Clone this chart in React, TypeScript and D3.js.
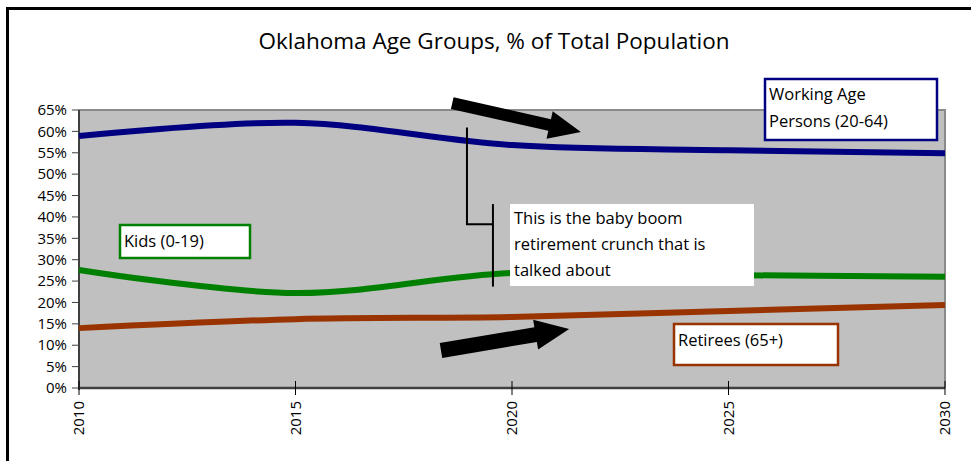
import { useRef, useEffect } from "react";
import * as d3 from "d3";

const years = [2010, 2015, 2020, 2025, 2030];
const working = [58.9, 62.0, 56.8, 55.6, 54.9];
const kids = [27.6, 22.2, 26.9, 26.4, 26.0];
const retirees = [14.0, 16.1, 16.6, 18.0, 19.4];
const yTicks = [0, 5, 10, 15, 20, 25, 30, 35, 40, 45, 50, 55, 60, 65];

const W = 971;
const H = 461;
const FONT = "'Open Sans', 'Noto Sans', sans-serif";

export default function App() {
  const ref = useRef<SVGSVGElement>(null);

  useEffect(() => {
    if (!ref.current) return;
    document.body.style.margin = "0";
    const svg = d3.select(ref.current);
    svg.selectAll("*").remove();

    const x = d3.scaleLinear().domain([2010, 2030]).range([79, 945]);
    const y = d3.scaleLinear().domain([0, 65]).range([388, 110]);

    svg.append("rect").attr("width", W).attr("height", H).attr("fill", "#fff");
    // outer chart border
    svg.append("rect")
      .attr("x", 7.5).attr("y", 8.5).attr("width", 1000).attr("height", 500)
      .attr("fill", "none").attr("stroke", "#000").attr("stroke-width", 3);

    svg.append("text")
      .attr("x", 494).attr("y", 49)
      .attr("text-anchor", "middle")
      .style("font-family", FONT).style("font-size", "22.5px").attr("fill", "#000")
      .text("Oklahoma Age Groups, % of Total Population");

    // plot area
    svg.append("rect")
      .attr("x", x(2010)).attr("y", y(65))
      .attr("width", x(2030) - x(2010)).attr("height", y(0) - y(65))
      .attr("fill", "#c0c0c0");
    svg.append("path")
      .attr("d", `M${x(2010)},${y(65)}H${x(2030)}V${y(0)}`)
      .attr("fill", "none").attr("stroke", "#8a8a8a").attr("stroke-width", 2);

    // y axis
    const gy = svg.append("g").attr("transform", `translate(${x(2010)},0)`);
    gy.append("line").attr("y1", y(65)).attr("y2", y(0) + 2)
      .attr("stroke", "#404040").attr("stroke-width", 2);
    yTicks.forEach((t) => {
      gy.append("line").attr("x1", -7).attr("x2", 0)
        .attr("y1", y(t)).attr("y2", y(t)).attr("stroke", "#404040").attr("stroke-width", 1);
      gy.append("text").attr("x", -12).attr("y", y(t)).attr("dy", "0.35em")
        .attr("text-anchor", "end")
        .style("font-family", FONT).style("font-size", "15px").attr("fill", "#000")
        .text(`${t}%`);
    });

    // x axis
    const gx = svg.append("g").attr("transform", `translate(0,${y(0)})`);
    gx.append("line").attr("x1", x(2010)).attr("x2", x(2030))
      .attr("stroke", "#404040").attr("stroke-width", 2.5);
    years.forEach((yr) => {
      gx.append("line").attr("x1", x(yr)).attr("x2", x(yr)).attr("y1", -7).attr("y2", 7)
        .attr("stroke", "#000").attr("stroke-width", 1);
      gx.append("text")
        .attr("transform", `translate(${x(yr)},13) rotate(-90)`)
        .attr("text-anchor", "end").attr("dy", "0.35em")
        .style("font-family", FONT).style("font-size", "15px").attr("fill", "#000")
        .text(String(yr));
    });

    const line = d3.line<number>()
      .x((_, i) => x(years[i]))
      .y((d) => y(d))
      .curve(d3.curveCardinal.tension(0));

    const series: [number[], string][] = [
      [working, "#000080"],
      [kids, "#008000"],
      [retirees, "#993300"],
    ];
    series.forEach(([vals, color]) => {
      svg.append("path").attr("d", line(vals)!)
        .attr("fill", "none").attr("stroke", color).attr("stroke-width", 6);
    });

    // arrows
    const arrow = (x0: number, y0: number, x1: number, y1: number, shaft: number, headW: number, headL: number) => {
      const dx = x1 - x0, dy = y1 - y0;
      const len = Math.hypot(dx, dy);
      const ux = dx / len, uy = dy / len;
      const nx = -uy, ny = ux;
      const bx = x1 - ux * headL, by = y1 - uy * headL;
      const pts = [
        [x0 + nx * shaft / 2, y0 + ny * shaft / 2],
        [bx + nx * shaft / 2, by + ny * shaft / 2],
        [bx + nx * headW / 2, by + ny * headW / 2],
        [x1, y1],
        [bx - nx * headW / 2, by - ny * headW / 2],
        [bx - nx * shaft / 2, by - ny * shaft / 2],
        [x0 - nx * shaft / 2, y0 - ny * shaft / 2],
      ];
      svg.append("polygon").attr("points", pts.map((p) => p.join(",")).join(" ")).attr("fill", "#000");
    };
    arrow(x(2018.62), y(66.6), x(2021.59), y(59.85), 12, 28, 32);
    arrow(x(2018.36), y(8.77), x(2021.32), y(13.8), 15, 30, 34);

    // callout connector
    svg.append("path")
      .attr("d", `M${x(2018.96)},${y(60.9)}V${y(38.3)}H${x(2019.56)}`)
      .attr("fill", "none").attr("stroke", "#000").attr("stroke-width", 2);
    svg.append("line")
      .attr("x1", x(2019.56)).attr("x2", x(2019.56)).attr("y1", y(43)).attr("y2", y(23.7))
      .attr("stroke", "#000").attr("stroke-width", 2);

    const label = (x0: number, y0: number, w: number, h: number, color: string | null, lines: string[], first: number, step: number) => {
      svg.append("rect").attr("x", x0).attr("y", y0).attr("width", w).attr("height", h)
        .attr("fill", "#fff")
        .attr("stroke", color ?? "none").attr("stroke-width", 2.5);
      lines.forEach((s, i) => {
        svg.append("text").attr("x", x0 + 4).attr("y", y0 + first + i * step)
          .style("font-family", FONT).style("font-size", "16.5px").attr("fill", "#000")
          .text(s);
      });
    };
    label(765, 79, 172, 61, "#000080", ["Working Age", "Persons (20-64)"], 21, 27);
    label(120, 225, 130, 33, "#008000", ["Kids (0-19)"], 22, 26);
    label(674, 324, 164, 41, "#993300", ["Retirees (65+)"], 22, 26);
    label(510, 204, 244, 82, null, ["This is the baby boom", "retirement crunch that is", "talked about"], 20, 26);
  }, []);

  return <svg ref={ref} width={W} height={H} style={{ display: "block" }} />;
}
